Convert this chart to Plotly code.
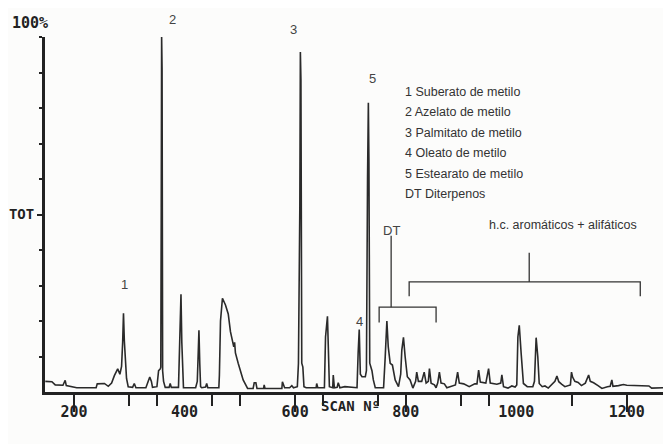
import plotly.graph_objects as go

# ---- data (scan number, % of total ion current) ----
scan = [148, 160, 166, 180, 184, 186, 205, 220, 232, 240, 242, 255, 262, 268, 273, 279, 283, 286,
        288, 289.5, 291, 293, 295, 298, 306, 309, 312, 330, 334, 337, 340, 342, 350, 353, 356,
        357, 357.8, 358.5, 359.3, 360.3, 362, 365, 372, 374, 376, 389, 391, 393.5, 395, 396.5,
        398, 420, 423, 424.5, 426, 427.5, 429, 431, 438, 440, 442, 462, 463, 465, 468.5, 474,
        479, 483, 485, 487, 489, 490.5, 492, 497, 502, 506, 514, 524, 526, 529, 531, 543, 544,
        545.5, 560, 576, 577, 579, 581, 590, 594, 597, 604, 606, 608.5, 609.5, 610.5, 612, 614,
        616, 620, 638, 639, 641, 653, 655, 658.5, 660.5, 662, 668, 669, 671, 676, 678, 681, 690,
        705, 712, 714, 716, 718, 721, 727, 729, 731, 732.5, 733.5, 735, 739, 741.5, 745, 760,
        763, 766, 768.5, 772, 776, 781, 787, 791, 793, 796, 799, 803, 808, 813, 818, 820, 823,
        829, 833.5, 837, 841, 843, 846, 852, 855, 858, 861, 864, 870, 874.5, 890, 894, 897, 905,
        915, 925, 929, 932, 935, 945, 950, 953, 965, 972, 974, 977, 985, 992, 998, 1001, 1003,
        1005.5, 1009, 1013, 1020, 1030, 1033, 1036, 1039, 1041.6, 1047, 1052, 1058, 1066, 1070,
        1073.6, 1077, 1082, 1088, 1098, 1100, 1102, 1106, 1112, 1118, 1125, 1131, 1134, 1140,
        1148, 1155, 1165, 1170, 1173, 1175, 1185, 1194, 1200, 1240, 1245, 1270, 1275, 1280]
intensity = [3.0, 2.9, 2.0, 1.9, 3.3, 1.8, 1.2, 1.2, 1.0, 1.2, 2.3, 2.4, 1.6, 2.5, 4.6, 6.5, 5.0, 7.2,
             14.0, 22.2, 14.5, 8.0, 3.8, 1.5, 1.3, 2.4, 1.2, 1.2, 3.0, 4.2, 3.0, 1.3, 1.5, 6.0, 6.5,
             7.0, 52.0, 100.0, 91.0, 6.0, 3.0, 1.3, 1.3, 2.4, 1.3, 1.3, 14.0, 27.5, 14.0, 3.0,
             1.2, 1.2, 3.0, 10.0, 17.4, 8.0, 1.5, 1.2, 1.4, 2.4, 1.2, 1.2, 4.8, 20.0, 26.4, 24.5,
             22.0, 17.0, 15.5, 14.0, 12.7, 14.0, 11.0, 8.1, 5.5, 3.4, 1.0, 1.0, 2.6, 2.6, 1.0, 1.0, 2.0,
             1.0, 1.0, 1.0, 2.9, 2.0, 1.2, 1.2, 1.8, 1.2, 1.5, 8.0, 52.0, 95.8, 88.0, 8.1, 7.0,
             1.5, 1.2, 1.2, 2.4, 1.2, 1.2, 15.5, 21.3, 10.0, 1.5, 1.2, 4.8, 1.2, 1.3, 2.6, 1.2, 1.5,
             1.3, 1.2, 11.0, 17.6, 5.0, 4.3, 4.3, 6.0, 60.0, 81.5, 65.0, 8.1, 6.0, 3.4, 1.2, 1.2,
             9.9, 20.0, 12.7, 8.1, 7.6, 3.4, 1.5, 5.0, 11.8, 15.4, 10.0, 4.3, 3.4, 1.1, 3.0, 5.6, 3.0,
             3.0, 5.6, 2.5, 3.0, 6.6, 2.5, 2.0, 1.2, 2.6, 5.6, 2.5, 2.3, 1.2, 2.0, 5.6, 2.5, 2.3,
             1.5, 2.3, 2.3, 6.2, 2.8, 2.5, 6.6, 2.5, 2.2, 2.5, 4.8, 1.5, 1.1, 1.7, 1.4, 2.0, 15.5,
             18.8, 10.7, 2.4, 1.5, 1.5, 3.0, 15.3, 10.0, 2.4, 1.5, 1.7, 1.1, 2.2, 3.0,
             4.5, 2.9, 2.2, 1.5, 2.0, 5.6, 4.2, 3.0, 2.7, 1.8, 2.5, 4.8, 3.0, 2.6,
             1.8, 1.0, 1.5, 1.6, 3.4, 1.6, 1.8, 2.1, 1.9, 1.7, 1.1, 1.2, 2.0, 2.3]

x_label_vals = [200, 400, 600, 800, 1000, 1200]
x_label_text = ["200", "400", "600", "800", "1000", "1200"]
x_long_ticks = [200, 600, 800, 1200]
x_short_ticks = [300, 350, 450, 500, 650, 750, 900, 950, 1100]
y_minor_ticks = [10, 20, 30, 40, 60, 70, 80, 90, 100]

legend_lines = ["1 Suberato de metilo", "2 Azelato de metilo", "3 Palmitato de metilo",
                "4 Oleato de metilo", "5 Estearato de metilo", "DT Diterpenos"]

# peak labels: text, scan, % position of text
peak_text = ["1", "2", "3", "4", "5", "DT"]
peak_x = [290.5, 377.4, 596.4, 715.8, 739.4, 773.7]
peak_y = [30.4, 105.0, 102.0, 20.0, 88.2, 45.6]

INK = "#222222"
BG = "#fcfcfb"
BOLD = dict(family="DejaVu Sans Mono", size=15, color=INK, weight="bold")
SANS = dict(family="Liberation Sans", size=12.5, color="#333333")

fig = go.Figure()
fig.add_trace(go.Scatter(x=scan, y=intensity, mode="lines",
                         line=dict(color="#2a2a2a", width=1.6),
                         showlegend=False, hoverinfo="skip", cliponaxis=False))
# invisible trace carrying the labelled axis
fig.add_trace(go.Scatter(x=x_label_vals, y=[None] * len(x_label_vals), xaxis="x2",
                         mode="markers", showlegend=False, hoverinfo="skip"))

XR = [147.5, 1280]
# the page body adds an 8px offset, so the figure is 8px smaller and the margins compensate
fig.update_layout(
    width=663, height=436,
    margin=dict(l=37, r=0, t=29, b=52),
    paper_bgcolor=BG, plot_bgcolor=BG,
    xaxis=dict(range=XR, showgrid=False, zeroline=False, showline=True, linecolor=INK, linewidth=3,
               tickvals=x_long_ticks, showticklabels=False, ticks="outside", ticklen=17,
               tickwidth=2, tickcolor=INK, automargin=False,
               minor=dict(tickvals=x_short_ticks, ticks="outside", ticklen=11, tickwidth=2,
                          tickcolor=INK, showgrid=False)),
    xaxis2=dict(range=XR, overlaying="x", side="bottom", showgrid=False, zeroline=False,
                showline=False, tickvals=x_label_vals, ticktext=x_label_text, automargin=False,
                ticks="outside", ticklen=6, tickcolor="rgba(0,0,0,0)", tickfont=BOLD),
    yaxis=dict(range=[0, 100], showgrid=False, zeroline=False, showline=True, linecolor=INK,
               linewidth=3, tickvals=[50], ticktext=["TOT"], ticks="outside", ticklen=5,
               tickwidth=2, tickcolor=INK, tickfont=dict(BOLD, size=14), automargin=False,
               minor=dict(tickvals=y_minor_ticks, ticks="outside", ticklen=3, tickwidth=2,
                          tickcolor=INK, showgrid=False)),
)

# "100%" and "SCAN Nº" texts
fig.add_annotation(x=-0.024, y=1.039, xref="paper", yref="paper", text="100%",
                   showarrow=False, font=BOLD, xanchor="center", yanchor="middle")
fig.add_annotation(x=700, y=-0.04, xref="x", yref="paper", text="SCAN Nº",
                   showarrow=False, font=dict(BOLD, size=14), xanchor="center", yanchor="middle")

# peak labels (y in % of the axis height -> paper fraction)
for t, xv, yv in zip(peak_text, peak_x, peak_y):
    fig.add_annotation(x=xv, y=yv / 100.0, xref="x", yref="paper", text=t, showarrow=False,
                       xanchor="center", yanchor="middle",
                       font=dict(family="Liberation Sans", size=13, color="#444444"))

# legend block
for i, line in enumerate(legend_lines):
    fig.add_annotation(x=795.5, y=84.5 - i * 5.75, text=line, showarrow=False, xanchor="left",
                       yanchor="middle", font=SANS)

fig.add_annotation(x=947.5, y=47.0, text="h.c. aromáticos + alifáticos", showarrow=False,
                   xanchor="left", yanchor="middle", font=SANS)

# brackets
LINE = dict(color="#333333", width=1.3)
# DT bracket
fig.add_shape(type="line", x0=773.7, x1=773.7, y0=44.0, y1=23.9, line=LINE)
fig.add_shape(type="path", path="M 752,19.6 L 752,23.9 L 855,23.9 L 855,19.6", line=LINE)
# h.c. bracket
fig.add_shape(type="line", x0=1023.5, x1=1023.5, y0=39.2, y1=31.0, line=LINE)
fig.add_shape(type="path", path="M 806.3,27 L 806.3,31 L 1224.4,31 L 1224.4,27", line=LINE)

fig.write_html("out.html")
